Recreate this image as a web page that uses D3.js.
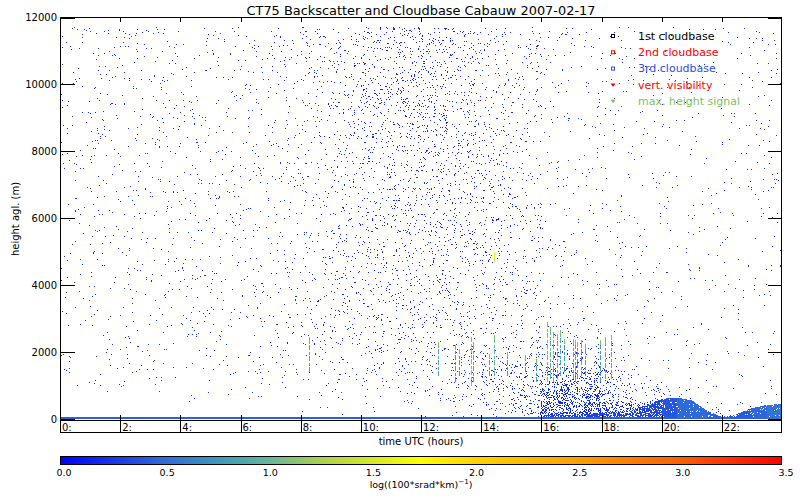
<!DOCTYPE html>
<html>
<head>
<meta charset="utf-8">
<script src="https://cdn.jsdelivr.net/npm/d3@7"></script>
<style>
  body { margin: 0; background: #fff; }
  svg { display: block; }
  text { font-family: "DejaVu Sans", sans-serif; }
</style>
</head>
<body>
<script>
// ---- data ----
var hourStarts = [0, 1, 2, 3, 4, 5, 6, 7, 8, 9, 10, 11, 12, 13, 14, 15, 16, 17, 18, 19, 20, 21, 22, 23];
var heightEdges = [0, 60, 200, 500, 1000, 1500, 2000, 3000, 4000, 5000, 6000, 7000, 8000, 9000, 10000, 11000, 11700];

// share of filled pixels (%) per hour, one row per height bin (bottom to top)
var density = [
  [100,100,100,100,100,100,100,100,100,100,100,100,100,100,100,100,100,100,100,100,100,100,100,100],
  [0, 0, 0, 0, 0, 0, 0, 0, 0.3, 0.5, 1, 1, 1.5, 2, 3, 10, 40, 45, 45, 45, 40, 3, 2, 2],
  [0, 0, 0, 0, 0, 0, 0, 0, 0.2, 0.4, 0.6, 0.8, 1, 1.5, 3, 10, 35, 35, 30, 25, 15, 2, 1.5, 1.5],
  [0.3, 0.3, 0.4, 0.4, 0.4, 0.4, 0.5, 0.5, 0.6, 1, 1.5, 2, 2.5, 3.5, 6, 12, 25, 25, 12, 6, 3, 1, 0.8, 0.8],
  [0.9, 0.9, 1.0, 1.0, 1.1, 1.1, 1.2, 1.2, 1.4, 1.8, 2.5, 3, 3.5, 4.5, 6, 9, 18, 15, 6, 1.5, 0.8, 0.7, 0.7, 0.8],
  [0.9, 0.9, 1.0, 1.0, 1.1, 1.1, 1.2, 1.2, 1.4, 1.8, 2.5, 3, 3.5, 4.5, 5, 5, 7, 6, 3, 1.0, 0.8, 0.7, 0.7, 0.8],
  [1.0, 1.0, 1.1, 1.1, 1.2, 1.2, 1.3, 1.3, 1.6, 2.2, 3, 3.5, 4, 4, 4, 4, 4, 3, 1.5, 0.8, 0.6, 0.6, 0.7, 0.8],
  [1.1, 1.1, 1.1, 1.1, 1.2, 1.2, 1.3, 1.4, 1.8, 2.5, 3.5, 3.5, 4, 3.5, 3.5, 3, 1.5, 1.2, 0.9, 0.7, 0.6, 0.6, 0.7, 0.8],
  [1.1, 1.1, 1.1, 1.2, 1.2, 1.3, 1.3, 1.4, 1.8, 2.8, 3.5, 4, 4.5, 4, 3.5, 3, 1.3, 1.0, 0.8, 0.7, 0.6, 0.6, 0.7, 0.8],
  [1.1, 1.1, 1.2, 1.2, 1.3, 1.3, 1.4, 1.4, 1.9, 2.8, 4, 4.5, 6.5, 6, 4.5, 3, 1.2, 1.0, 0.8, 0.7, 0.6, 0.6, 0.7, 0.8],
  [1.1, 1.1, 1.2, 1.2, 1.3, 1.3, 1.4, 1.5, 2, 3, 4, 4.5, 5.5, 5, 3.5, 2.5, 1.2, 1.0, 0.8, 0.7, 0.6, 0.6, 0.7, 0.9],
  [1.1, 1.2, 1.2, 1.2, 1.3, 1.3, 1.4, 1.5, 2.2, 3.2, 4.5, 5, 5, 4.5, 3.5, 2.5, 1.2, 1.0, 0.8, 0.7, 0.6, 0.7, 0.8, 0.9],
  [1.1, 1.2, 1.2, 1.3, 1.3, 1.4, 1.5, 1.6, 2.2, 3.5, 5, 5.5, 5.5, 5, 3.5, 2.5, 1.2, 1.0, 0.9, 0.8, 0.7, 0.7, 0.9, 1.0],
  [1.2, 1.2, 1.3, 1.3, 1.4, 1.4, 1.5, 1.6, 2.4, 3.8, 5.5, 6, 6, 5, 3.5, 2.5, 1.3, 1.0, 0.9, 0.8, 0.7, 0.8, 0.9, 1.0],
  [1.2, 1.3, 1.3, 1.4, 1.4, 1.5, 1.5, 1.7, 2.5, 4, 6, 6.5, 6.5, 5.5, 3.5, 2.5, 1.4, 1.1, 1.0, 0.9, 0.8, 0.8, 1.0, 1.1],
  [1.3, 1.4, 1.4, 1.4, 1.5, 1.5, 1.6, 1.7, 2.5, 4, 6, 7, 7, 6, 4, 2.5, 1.5, 1.2, 1.0, 0.9, 0.8, 0.9, 1.0, 1.1]
];
var baseValue = 0.2;
var surfaceValue = 0.45;

// dense boundary layer near the ground, half-hourly
var layerStart   = [16, 16.5, 17, 17.5, 18, 18.5, 19, 19.5, 20, 20.5, 21, 21.5, 22, 22.5, 23, 23.5, 24];
var layerTop     = [100, 120, 130, 150, 180, 220, 280, 420, 600, 640, 560, 250, 60, 150, 320, 420, 450];
var layerDensity = [70, 70, 70, 70, 70, 70, 70, 75, 92, 95, 95, 90, 60, 95, 95, 95, 95];
var layerValue   = [0.3, 0.3, 0.3, 0.3, 0.3, 0.3, 0.3, 0.32, 0.4, 0.5, 0.5, 0.45, 0.4, 0.42, 0.48, 0.55, 0.55];

// vertical streaks: [hour, bottom (m), top (m), value]
var streaks = [
  [8.28, 1400, 2450, 0.9], [12.57, 1300, 2300, 0.9], [13.13, 1100, 2200, 0.8],
  [13.27, 1300, 2100, 0.8], [13.66, 1000, 2450, 1.1], [13.73, 1100, 2300, 0.9],
  [14.26, 1300, 1950, 0.8], [14.43, 1300, 2500, 1.0], [14.43, 4700, 5000, 1.6],
  [14.86, 1300, 2000, 0.8], [15.46, 1400, 1900, 0.8], [15.82, 1100, 1800, 0.8],
  [16.2, 1100, 2900, 1.1], [16.28, 1200, 2750, 1.0], [16.4, 1100, 2600, 1.0],
  [16.52, 1200, 2550, 0.9], [16.62, 1300, 2650, 0.9], [16.75, 1400, 2400, 0.8],
  [17.05, 1200, 2400, 0.9], [17.12, 1100, 2350, 0.9], [17.2, 1200, 2300, 0.8],
  [17.32, 1300, 2350, 0.9], [17.45, 1300, 2250, 0.8], [17.95, 1100, 2350, 0.8],
  [18.1, 1200, 2450, 0.9], [18.3, 1200, 2500, 0.9]
];

var hourTicks = [0, 2, 4, 6, 8, 10, 12, 14, 16, 18, 20, 22];
var heightTicks = [0, 2000, 4000, 6000, 8000, 10000, 12000];
var colorStops = [0, 0.5, 0.8, 1.0, 1.25, 1.75, 2.0, 2.5, 3.0, 3.5];
var colorHex = ["#0000ff", "#2f6bd8", "#3f9fb8", "#62b59c", "#a8d050", "#ffff00", "#ffd400", "#ffa000", "#ff6000", "#ff0000"];
var cbTicks = [0, 0.5, 1.0, 1.5, 2.0, 2.5, 3.0, 3.5];

var legendItems = ["1st cloudbase", "2nd cloudbase", "3rd cloudbase", "vert. visibility", "max. height signal"];
var legendColors = ["#000000", "#ff0000", "#2850e0", "#ff0000", "#80c060"];
var legendShapes = ["square", "square", "square", "tri", "tri"];

// ---- drawing ----
var svg = d3.select("body").append("svg").attr("width", 800).attr("height", 500);

var x = d3.scaleLinear().domain([0, 24]).range([60, 782]);
var y = d3.scaleLinear().domain([0, 12000]).range([419, 17.5]);
var color = d3.scaleLinear().domain(colorStops).range(colorHex).clamp(true);

// screen dither threshold for speckle placement
function dither(px, py) {
  var n = Math.imul(px, 374761393) + Math.imul(py, 668265263) | 0;
  n = Math.imul(n ^ (n >>> 13), 1274126177);
  n = n ^ (n >>> 16);
  return (n >>> 0) / 4294967296;
}

function layerAt(t) {
  var i = d3.bisectRight(layerStart, t) - 1;
  if (i < 0 || i >= layerStart.length - 1) return null;
  var f = (t - layerStart[i]) / (layerStart[i + 1] - layerStart[i]);
  return {
    top: layerTop[i] + f * (layerTop[i + 1] - layerTop[i]),
    dens: layerDensity[i],
    val: layerValue[i]
  };
}

var dots = [];
var yTopPx = Math.floor(y(11700));
for (var py = yTopPx; py <= 418; py++) {
  var h = Math.max(0, y.invert(py + 0.5));
  var r = Math.min(density.length - 1, d3.bisectRight(heightEdges, h) - 1);
  for (var px = 60; px < 782; px++) {
    var t = x.invert(px + 0.5);
    var c = Math.min(hourStarts.length - 1, d3.bisectRight(hourStarts, t) - 1);
    var d = density[r][c], v = baseValue;
    var L = layerAt(t);
    if (L && h < L.top) { d = Math.max(d, L.dens); v = L.val; }
    if (r === 0) v = L && h < L.top ? Math.max(surfaceValue, L.val) : surfaceValue;
    if (dither(px, py) < d / 100) dots.push({ px: px, py: py, v: v });
  }
}

svg.append("g")
  .attr("shape-rendering", "crispEdges")
  .selectAll("rect").data(dots).enter().append("rect")
  .attr("x", function(d) { return d.px; })
  .attr("y", function(d) { return d.py; })
  .attr("width", 1).attr("height", 1)
  .attr("fill", function(d) { return color(d.v); });

// streaks
var sg = svg.append("g").attr("shape-rendering", "crispEdges");
sg.selectAll("line.st").data(streaks).enter().append("line")
  .attr("x1", function(d) { return Math.round(x(d[0])) + 0.5; })
  .attr("x2", function(d) { return Math.round(x(d[0])) + 0.5; })
  .attr("y1", function(d) { return y(d[1]); })
  .attr("y2", function(d) { return y(d[2]); })
  .attr("stroke", function(d) { return color(d[3]); })
  .attr("stroke-width", 1)
  .attr("stroke-dasharray", "5,1,3,2");
sg.selectAll("line.tip").data(streaks).enter().append("line")
  .attr("x1", function(d) { return Math.round(x(d[0])) + 0.5; })
  .attr("x2", function(d) { return Math.round(x(d[0])) + 0.5; })
  .attr("y1", function(d) { return y(d[2]); })
  .attr("y2", function(d) { return y(d[2]) + 5; })
  .attr("stroke", function(d) { return d[3] > 1.4 ? color(d[3]) : "#80c060"; })
  .attr("stroke-width", 1);

// frame and axes
var ax = svg.append("g").attr("shape-rendering", "crispEdges").attr("stroke", "#000").attr("fill", "none");
ax.append("rect").attr("x", 60.5).attr("y", 17.5).attr("width", 721).attr("height", 403);
ax.append("rect").attr("x", 60.5).attr("y", 420.5).attr("width", 721).attr("height", 12);

ax.selectAll("line.yl").data(heightTicks).enter().append("line")
  .attr("x1", 60).attr("x2", 75)
  .attr("y1", function(d) { return Math.round(y(d)) + 0.5; })
  .attr("y2", function(d) { return Math.round(y(d)) + 0.5; });
ax.selectAll("line.yr").data(heightTicks).enter().append("line")
  .attr("x1", 768).attr("x2", 782)
  .attr("y1", function(d) { return Math.round(y(d)) + 0.5; })
  .attr("y2", function(d) { return Math.round(y(d)) + 0.5; });
ax.selectAll("line.xt").data(hourTicks).enter().append("line")
  .attr("x1", function(d) { return Math.round(x(d)) + 0.5; })
  .attr("x2", function(d) { return Math.round(x(d)) + 0.5; })
  .attr("y1", 17).attr("y2", 22);
ax.selectAll("line.xb").data(hourTicks).enter().append("line")
  .attr("x1", function(d) { return Math.round(x(d)) + 0.5; })
  .attr("x2", function(d) { return Math.round(x(d)) + 0.5; })
  .attr("y1", 415).attr("y2", 432);

svg.append("g").selectAll("text").data(heightTicks).enter().append("text")
  .attr("x", 57).attr("y", function(d) { return y(d); })
  .attr("dy", "0.35em").attr("text-anchor", "end")
  .attr("font-size", 10).text(function(d) { return d; });

svg.append("g").selectAll("text").data(hourTicks).enter().append("text")
  .attr("x", function(d) { return x(d) + 2; }).attr("y", 430.5)
  .attr("font-size", 10).text(function(d) { return d + ":"; });

svg.append("text").attr("x", 421).attr("y", 15).attr("text-anchor", "middle")
  .attr("font-size", 13).attr("textLength", 349).attr("lengthAdjust", "spacingAndGlyphs")
  .text("CT75 Backscatter and Cloudbase Cabauw 2007-02-17");
svg.append("text").attr("x", 421).attr("y", 445).attr("text-anchor", "middle")
  .attr("font-size", 10).text("time UTC (hours)");
svg.append("text").attr("transform", "translate(19,219) rotate(-90)").attr("text-anchor", "middle")
  .attr("font-size", 10).text("height agl. (m)");

// legend
var lg = svg.append("g").selectAll("g").data(legendItems).enter().append("g")
  .attr("transform", function(d, i) { return "translate(613," + (36 + i * 16.3) + ")"; });
lg.each(function(d, i) {
  var g = d3.select(this);
  if (legendShapes[i] === "square") {
    g.append("rect").attr("x", -1.5).attr("y", -1.5).attr("width", 3).attr("height", 3)
      .attr("fill", "none").attr("stroke", legendColors[i]).attr("stroke-width", 1);
  } else {
    g.append("path").attr("d", "M-2.5,-1.5L2.5,-1.5L0,2Z").attr("fill", legendColors[i]);
  }
  g.append("text").attr("x", 25).attr("dy", "0.35em").attr("font-size", 11)
    .attr("fill", legendColors[i]).text(d);
});

// colour bar
var cbx = d3.scaleLinear().domain([0, 3.5]).range([60, 782]);
var grad = svg.append("defs").append("linearGradient").attr("id", "cb");
grad.selectAll("stop").data(colorStops).enter().append("stop")
  .attr("offset", function(d) { return (d / 3.5 * 100) + "%"; })
  .attr("stop-color", function(d, i) { return colorHex[i]; });
svg.append("rect").attr("x", 60.5).attr("y", 456.5).attr("width", 721).attr("height", 8)
  .attr("fill", "url(#cb)").attr("stroke", "#000").attr("shape-rendering", "crispEdges");
svg.append("g").selectAll("text").data(cbTicks).enter().append("text")
  .attr("x", function(d) { return cbx(d) + 4; }).attr("y", 476)
  .attr("text-anchor", "middle").attr("font-size", 9.5)
  .text(function(d) { return d3.format(".1f")(d); });
var ll = svg.append("text").attr("x", 421).attr("y", 488).attr("text-anchor", "middle").attr("font-size", 9.5);
ll.append("tspan").text("log((100*srad*km)");
ll.append("tspan").attr("dy", -4).attr("font-size", 7).text("\u22121");
ll.append("tspan").attr("dy", 4).text(")");
</script>
</body>
</html>
